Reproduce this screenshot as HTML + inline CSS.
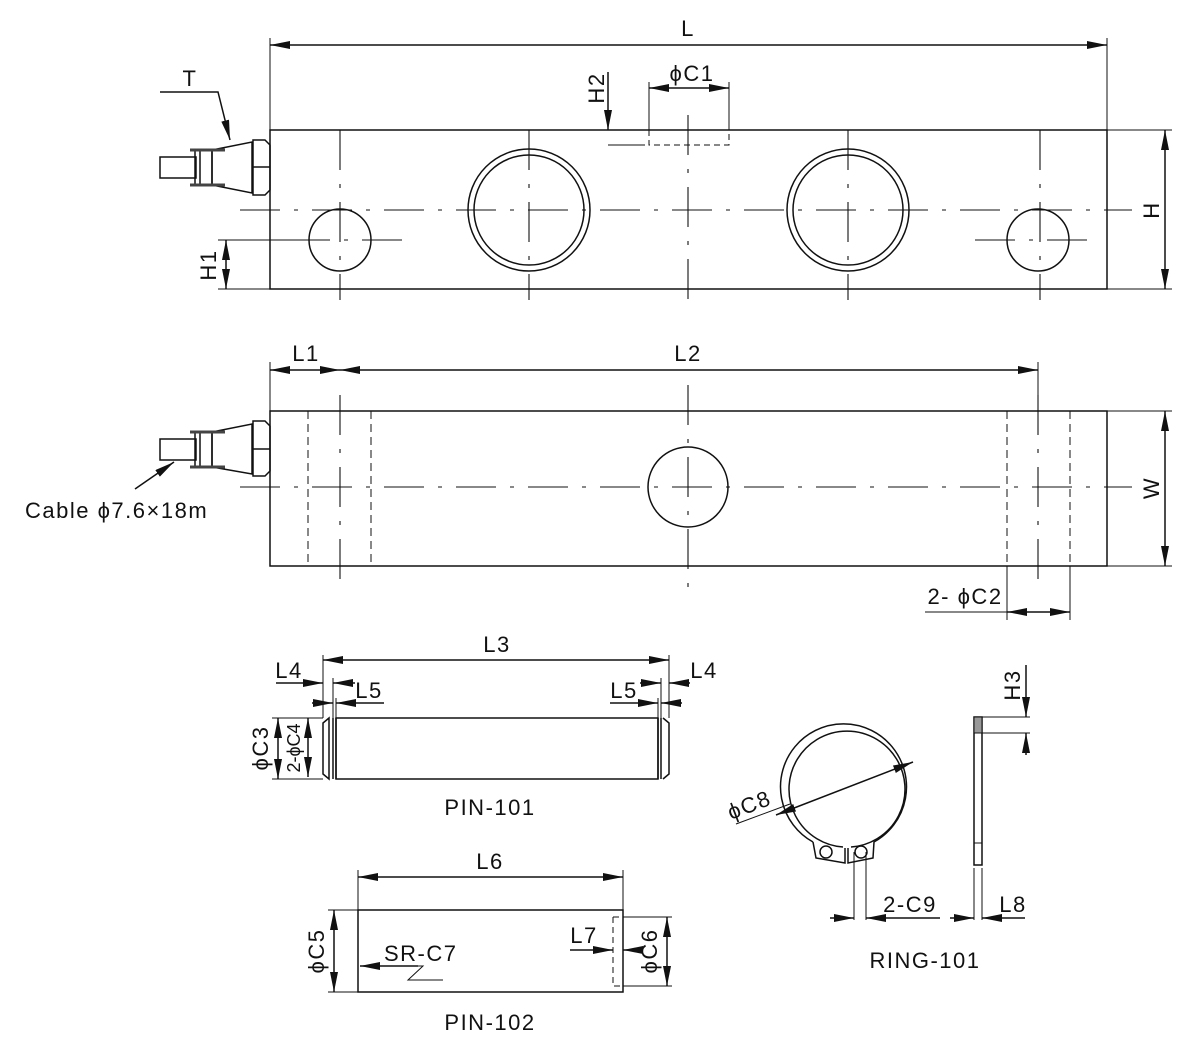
<!DOCTYPE html>
<html><head><meta charset="utf-8"><style>html,body{margin:0;padding:0;background:#fff}svg{display:block}text{letter-spacing:1.5px}</style></head>
<body>
<svg width="1200" height="1050" viewBox="0 0 1200 1050" xmlns="http://www.w3.org/2000/svg" font-family="Liberation Sans, Arial, sans-serif" font-size="22" fill="none" stroke="#111" stroke-width="1.5">
<defs>
<marker id="a" viewBox="0 0 20 8" refX="20" refY="4" markerWidth="20" markerHeight="8" markerUnits="userSpaceOnUse" orient="auto-start-reverse"><path d="M0,0 L20,4 L0,8 z" fill="#111" stroke="none"/></marker>
</defs>
<!-- TOP VIEW -->
<rect x="270" y="130" width="837" height="159"/>
<g stroke-dasharray="40,14,4,14" stroke-width="1.1">
<line x1="240" y1="210" x2="1132" y2="210"/>
<line x1="340" y1="130" x2="340" y2="300"/>
<line x1="529" y1="130" x2="529" y2="300"/>
<line x1="848" y1="130" x2="848" y2="300"/>
<line x1="1040" y1="130" x2="1040" y2="300"/>
<line x1="688" y1="115" x2="688" y2="300"/>
<line x1="290" y1="240" x2="410" y2="240"/>
<line x1="975" y1="240" x2="1100" y2="240"/>
</g>
<circle cx="529" cy="210" r="61"/><circle cx="529" cy="210" r="55"/>
<circle cx="848" cy="210" r="61"/><circle cx="848" cy="210" r="55"/>
<circle cx="340" cy="240" r="31"/><circle cx="1038" cy="240" r="31"/>
<!-- top connector -->
<path d="M160,157 h36 v21 h-36 z"/>
<path d="M195,150 h17 v35 h-17 z M200,150 v35"/>
<path d="M212,150 L252,142 V193 L212,185 z"/>
<path d="M253,140 h12 l5,5 v45 l-5,5 h-12 z M253,167 h17"/>
<path d="M190,150 h35 M190,185 h35" stroke-width="3" stroke="#444"/>
<!-- L -->
<line x1="270" y1="38" x2="270" y2="130" stroke-width="1"/>
<line x1="1107" y1="38" x2="1107" y2="130" stroke-width="1"/>
<line x1="270" y1="45" x2="1107" y2="45" marker-start="url(#a)" marker-end="url(#a)"/>
<text x="688" y="36" fill="#111" stroke="none" text-anchor="middle">L</text>
<!-- H -->
<line x1="1107" y1="130" x2="1172" y2="130" stroke-width="1"/>
<line x1="1107" y1="289" x2="1172" y2="289" stroke-width="1"/>
<line x1="1165" y1="130" x2="1165" y2="289" marker-start="url(#a)" marker-end="url(#a)"/>
<text transform="translate(1159,210) rotate(-90)" fill="#111" stroke="none" text-anchor="middle">H</text>
<!-- H1 -->
<line x1="218" y1="240" x2="300" y2="240" stroke-width="1"/>
<line x1="218" y1="289" x2="270" y2="289" stroke-width="1"/>
<line x1="226" y1="240" x2="226" y2="289" marker-start="url(#a)" marker-end="url(#a)"/>
<text transform="translate(216,265) rotate(-90)" fill="#111" stroke="none" text-anchor="middle">H1</text>
<!-- T -->
<polyline points="160,92 218,92 230,140" marker-end="url(#a)"/>
<text x="190" y="86" fill="#111" stroke="none" text-anchor="middle">T</text>
<!-- H2 / C1 -->
<line x1="608" y1="72" x2="608" y2="130" marker-end="url(#a)"/>
<line x1="608" y1="145" x2="645" y2="145" stroke-width="1"/>
<text transform="translate(604,88) rotate(-90)" fill="#111" stroke="none" text-anchor="middle">H2</text>
<path d="M649,130 V145 H729 V130" stroke-dasharray="6,4" stroke-width="1"/>
<line x1="649" y1="82" x2="649" y2="130" stroke-width="1"/>
<line x1="729" y1="82" x2="729" y2="130" stroke-width="1"/>
<line x1="649" y1="88" x2="729" y2="88" marker-start="url(#a)" marker-end="url(#a)"/>
<text x="692" y="81" fill="#111" stroke="none" text-anchor="middle">ϕC1</text>

<!-- SIDE VIEW -->
<rect x="270" y="411" width="837" height="155"/>
<g stroke-dasharray="40,14,4,14" stroke-width="1.1">
<line x1="240" y1="487" x2="1132" y2="487"/>
<line x1="340" y1="395" x2="340" y2="580"/>
<line x1="1038" y1="395" x2="1038" y2="580"/>
<line x1="688" y1="385" x2="688" y2="598"/>
</g>
<g stroke-dasharray="8,5" stroke-width="1">
<line x1="308" y1="411" x2="308" y2="566"/><line x1="371" y1="411" x2="371" y2="566"/>
<line x1="1007" y1="411" x2="1007" y2="566"/><line x1="1070" y1="411" x2="1070" y2="566"/>
</g>
<circle cx="688" cy="487" r="40"/>
<path d="M160,439 h36 v21 h-36 z"/>
<path d="M195,432 h17 v35 h-17 z M200,432 v35"/>
<path d="M212,432 L252,424 V474 L212,467 z"/>
<path d="M253,421 h12 l5,5 v45 l-5,5 h-12 z M253,449 h17"/>
<path d="M190,432 h35 M190,467 h35" stroke-width="3" stroke="#444"/>
<line x1="135" y1="489" x2="174" y2="462" marker-end="url(#a)"/>
<text x="25" y="518" fill="#111" stroke="none">Cable ϕ7.6×18m</text>
<line x1="270" y1="362" x2="270" y2="411" stroke-width="1"/>
<line x1="1038" y1="362" x2="1038" y2="395" stroke-width="1"/>
<line x1="270" y1="370" x2="340" y2="370" marker-start="url(#a)" marker-end="url(#a)"/>
<line x1="340" y1="370" x2="1038" y2="370" marker-start="url(#a)" marker-end="url(#a)"/>
<text x="306" y="361" fill="#111" stroke="none" text-anchor="middle">L1</text>
<text x="688" y="361" fill="#111" stroke="none" text-anchor="middle">L2</text>
<line x1="1107" y1="411" x2="1172" y2="411" stroke-width="1"/>
<line x1="1107" y1="566" x2="1172" y2="566" stroke-width="1"/>
<line x1="1165" y1="411" x2="1165" y2="566" marker-start="url(#a)" marker-end="url(#a)"/>
<text transform="translate(1159,488) rotate(-90)" fill="#111" stroke="none" text-anchor="middle">W</text>
<line x1="1007" y1="566" x2="1007" y2="620" stroke-width="1"/>
<line x1="1070" y1="566" x2="1070" y2="620" stroke-width="1"/>
<line x1="925" y1="612" x2="1007" y2="612" stroke-width="1"/>
<line x1="1007" y1="612" x2="1070" y2="612" marker-start="url(#a)" marker-end="url(#a)"/>
<text x="965" y="604" fill="#111" stroke="none" text-anchor="middle">2- ϕC2</text>

<!-- PIN-101 -->
<path d="M329,718 L323,723 V774 L329,779 z"/>
<path d="M333,718 V779 M336,718 V779"/>
<rect x="336" y="718" width="322" height="61"/>
<path d="M658,718 V779 M661,718 V779"/>
<path d="M663,718 L669,723 V774 L663,779"/>
<line x1="323" y1="655" x2="323" y2="718" stroke-width="1"/>
<line x1="669" y1="655" x2="669" y2="718" stroke-width="1"/>
<line x1="333" y1="678" x2="333" y2="718" stroke-width="1"/>
<line x1="336" y1="698" x2="336" y2="718" stroke-width="1"/>
<line x1="658" y1="698" x2="658" y2="718" stroke-width="1"/>
<line x1="661" y1="678" x2="661" y2="718" stroke-width="1"/>
<line x1="323" y1="660" x2="669" y2="660" marker-start="url(#a)" marker-end="url(#a)"/>
<text x="497" y="652" fill="#111" stroke="none" text-anchor="middle">L3</text>
<line x1="276" y1="683" x2="323" y2="683" marker-end="url(#a)"/>
<line x1="355" y1="683" x2="333" y2="683" marker-end="url(#a)"/>
<line x1="312" y1="703" x2="333" y2="703" marker-end="url(#a)"/>
<line x1="384" y1="703" x2="336" y2="703" marker-end="url(#a)"/>
<line x1="640" y1="683" x2="661" y2="683" marker-end="url(#a)"/>
<line x1="690" y1="683" x2="669" y2="683" marker-end="url(#a)"/>
<line x1="610" y1="703" x2="658" y2="703" marker-end="url(#a)"/>
<line x1="682" y1="703" x2="661" y2="703" marker-end="url(#a)"/>
<text x="289" y="678" fill="#111" stroke="none" text-anchor="middle">L4</text>
<text x="369" y="698" fill="#111" stroke="none" text-anchor="middle">L5</text>
<text x="624" y="698" fill="#111" stroke="none" text-anchor="middle">L5</text>
<text x="704" y="678" fill="#111" stroke="none" text-anchor="middle">L4</text>
<line x1="272" y1="718" x2="323" y2="718" stroke-width="1"/>
<line x1="272" y1="779" x2="323" y2="779" stroke-width="1"/>
<line x1="278" y1="718" x2="278" y2="779" marker-start="url(#a)" marker-end="url(#a)"/>
<line x1="308" y1="718" x2="308" y2="777" marker-start="url(#a)" marker-end="url(#a)"/>
<text transform="translate(268,748) rotate(-90)" fill="#111" stroke="none" text-anchor="middle">ϕC3</text>
<text transform="translate(300,748) rotate(-90)" fill="#111" stroke="none" text-anchor="middle" font-size="18" style="letter-spacing:0">2-ϕC4</text>
<text x="490" y="815" fill="#111" stroke="none" text-anchor="middle">PIN-101</text>

<!-- PIN-102 -->
<rect x="358" y="910" width="265" height="82"/>
<path d="M613,917 V986 H623 M613,917 H623" stroke-dasharray="6,4" stroke-width="1"/>
<line x1="358" y1="870" x2="358" y2="910" stroke-width="1"/>
<line x1="623" y1="870" x2="623" y2="910" stroke-width="1"/>
<line x1="358" y1="877" x2="623" y2="877" marker-start="url(#a)" marker-end="url(#a)"/>
<text x="490" y="869" fill="#111" stroke="none" text-anchor="middle">L6</text>
<line x1="328" y1="910" x2="358" y2="910" stroke-width="1"/>
<line x1="328" y1="992" x2="358" y2="992" stroke-width="1"/>
<line x1="334" y1="910" x2="334" y2="992" marker-start="url(#a)" marker-end="url(#a)"/>
<text transform="translate(324,951) rotate(-90)" fill="#111" stroke="none" text-anchor="middle">ϕC5</text>
<line x1="623" y1="917" x2="672" y2="917" stroke-width="1"/>
<line x1="623" y1="986" x2="672" y2="986" stroke-width="1"/>
<line x1="667" y1="917" x2="667" y2="986" marker-start="url(#a)" marker-end="url(#a)"/>
<text transform="translate(657,951) rotate(-90)" fill="#111" stroke="none" text-anchor="middle">ϕC6</text>
<line x1="570" y1="950" x2="613" y2="950" marker-end="url(#a)"/>
<line x1="643" y1="950" x2="623" y2="950" marker-end="url(#a)"/>
<text x="584" y="943" fill="#111" stroke="none" text-anchor="middle">L7</text>
<polyline points="418,966 360,966" marker-end="url(#a)"/>
<polyline points="418,966 423,966 408,980 443,980" stroke-width="1"/>
<text x="384" y="961" fill="#111" stroke="none">SR-C7</text>
<text x="490" y="1030" fill="#111" stroke="none" text-anchor="middle">PIN-102</text>

<!-- RING -->
<path d="M843,847 A58,58 0 1 1 851,847"/>
<path d="M813,842 A63,63 0 1 1 874,842 L873,858 L848,863 L848,848"/>
<path d="M845,848 L845,863 L816,858 L813,842"/>
<circle cx="826" cy="852" r="6"/><circle cx="861" cy="852" r="6"/>
<line x1="854" y1="852" x2="854" y2="920" stroke-width="1"/>
<line x1="866" y1="852" x2="866" y2="920" stroke-width="1"/>
<line x1="830" y1="918" x2="854" y2="918" marker-end="url(#a)"/>
<line x1="940" y1="918" x2="866" y2="918" marker-end="url(#a)" />
<text x="910" y="912" fill="#111" stroke="none" text-anchor="middle">2-C9</text>
<line x1="776" y1="815" x2="913" y2="762" marker-start="url(#a)" marker-end="url(#a)"/>
<line x1="736" y1="824" x2="790" y2="804" stroke-width="1"/>
<text transform="translate(752,812) rotate(-21)" fill="#111" stroke="none" text-anchor="middle">ϕC8</text>
<!-- ring side -->
<rect x="974" y="717" width="8" height="148"/>
<rect x="974" y="717" width="8" height="16" fill="#999" stroke-width="1"/>
<line x1="974" y1="843" x2="982" y2="843" stroke-width="1"/>
<line x1="974" y1="868" x2="974" y2="920" stroke-width="1"/>
<line x1="982" y1="868" x2="982" y2="920" stroke-width="1"/>
<line x1="950" y1="918" x2="974" y2="918" marker-end="url(#a)"/>
<line x1="1025" y1="918" x2="982" y2="918" marker-end="url(#a)"/>
<text x="1013" y="912" fill="#111" stroke="none" text-anchor="middle">L8</text>
<line x1="982" y1="717" x2="1030" y2="717" stroke-width="1"/>
<line x1="982" y1="733" x2="1030" y2="733" stroke-width="1"/>
<line x1="1026" y1="665" x2="1026" y2="717" marker-end="url(#a)"/>
<line x1="1026" y1="755" x2="1026" y2="733" marker-end="url(#a)"/>
<text transform="translate(1020,685) rotate(-90)" fill="#111" stroke="none" text-anchor="middle">H3</text>
<text x="925" y="968" fill="#111" stroke="none" text-anchor="middle">RING-101</text>
</svg>
</body></html>
